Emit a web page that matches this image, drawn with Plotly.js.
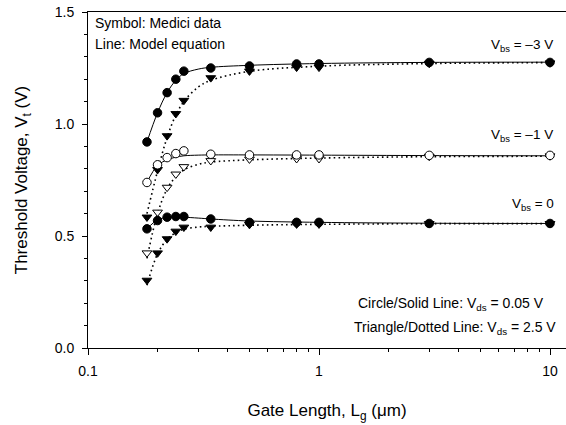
<!DOCTYPE html>
<html>
<head>
<meta charset="utf-8">
<script src="https://cdn.plot.ly/plotly-3.0.1.min.js"></script>
<style>html,body{margin:0;padding:0;background:#fff;}#chart{width:566px;height:425px;}</style>
</head>
<body>
<div id="chart"></div>
<script>
// Medici data (gate length in um)
const L_data = [0.18, 0.2, 0.22, 0.24, 0.26, 0.34, 0.5, 0.8, 1, 3, 10];
const vt_m3_vds005 = [0.92, 1.05, 1.14, 1.20, 1.236, 1.25, 1.259, 1.268, 1.268, 1.275, 1.275];
const vt_m3_vds25  = [0.584, 0.796, 0.947, 1.046, 1.105, 1.206, 1.236, 1.253, 1.253, 1.27, 1.272];
const vt_m1_vds005 = [0.739, 0.818, 0.85, 0.868, 0.88, 0.865, 0.862, 0.862, 0.862, 0.86, 0.86];
const vt_m1_vds25  = [0.424, 0.606, 0.717, 0.776, 0.809, 0.836, 0.843, 0.845, 0.845, 0.855, 0.857];
const vt_0_vds005  = [0.532, 0.569, 0.584, 0.587, 0.587, 0.576, 0.561, 0.561, 0.561, 0.556, 0.556];
const vt_0_vds25   = [0.302, 0.424, 0.487, 0.521, 0.539, 0.539, 0.551, 0.553, 0.553, 0.555, 0.555];

// Model equation curves
const L_model = [0.18, 0.2, 0.22, 0.24, 0.26, 0.3, 0.34, 0.5, 1, 3, 10];
const model_m3_vds005 = [0.92, 1.05, 1.14, 1.195, 1.225, 1.245, 1.253, 1.262, 1.27, 1.275, 1.276];
const model_m3_vds25  = [0.60, 0.79, 0.94, 1.04, 1.10, 1.165, 1.195, 1.235, 1.258, 1.27, 1.274];
const model_m1_vds005 = [0.74, 0.815, 0.84, 0.852, 0.858, 0.861, 0.862, 0.862, 0.861, 0.859, 0.858];
const model_m1_vds25  = [0.40, 0.60, 0.71, 0.765, 0.795, 0.82, 0.83, 0.84, 0.848, 0.854, 0.856];
const model_0_vds005  = [0.532, 0.572, 0.583, 0.585, 0.584, 0.58, 0.576, 0.567, 0.561, 0.557, 0.556];
const model_0_vds25   = [0.28, 0.42, 0.485, 0.515, 0.53, 0.54, 0.543, 0.548, 0.552, 0.555, 0.555];

const xTickVals = [0.1, 1, 10];
const xTickText = ['0.1', '1', '10'];
const xMinorVals = [0.2,0.3,0.4,0.5,0.6,0.7,0.8,0.9,2,3,4,5,6,7,8,9];
const yTickVals = [0, 0.5, 1.0, 1.5];
const yTickText = ['0.0', '0.5', '1.0', '1.5'];

const FONT = 'Liberation Sans, Arial, sans-serif';

function line(y, dash) {
  return {x: L_model, y: y, mode: 'lines', type: 'scatter', hoverinfo: 'skip',
    line: {color: '#000', width: dash ? 1.6 : 1, dash: dash ? '1.6px,3.2px' : 'solid', shape: 'spline'}};
}
function pts(y, symbol, hollow) {
  return {x: L_data, y: y, mode: 'markers', type: 'scatter',
    marker: {symbol: symbol, size: 8.5, color: hollow ? '#fff' : '#000', line: {color: '#000', width: 1}}};
}

const traces = [
  line(model_m3_vds005, false), line(model_m3_vds25, true),
  line(model_m1_vds005, false), line(model_m1_vds25, true),
  line(model_0_vds005, false), line(model_0_vds25, true),
  pts(vt_m3_vds25, 'triangle-down', false), pts(vt_m3_vds005, 'circle', false),
  pts(vt_m1_vds25, 'triangle-down', true), pts(vt_m1_vds005, 'circle', true),
  pts(vt_0_vds25, 'triangle-down', false), pts(vt_0_vds005, 'circle', false)
];

function ann(text, xp, yp, anchor, size) {
  return {text: text, xref: 'paper', yref: 'paper', x: xp, y: yp, xanchor: anchor, yanchor: 'middle',
    showarrow: false, font: {family: FONT, size: size, color: '#000'}};
}
const W = 478, H = 336;
function px(x){ return (x - 88) / W; }
function py(y){ return (348 - y) / H; }

const layout = {
  width: 566, height: 425,
  margin: {l: 88, r: 0, t: 12, b: 77},
  paper_bgcolor: '#fff', plot_bgcolor: '#fff',
  showlegend: false,
  font: {family: FONT, color: '#000'},
  xaxis: {
    type: 'log', range: [-1, Math.log10(0.1 * Math.pow(10, W / 231))],
    tickvals: xTickVals, ticktext: xTickText, ticks: 'outside', ticklen: 6, tickwidth: 1, tickcolor: '#000',
    ticklabelstandoff: 4,
    minor: {tickvals: xMinorVals, ticks: 'outside', ticklen: 3, tickcolor: '#000', showgrid: false},
    showgrid: false, zeroline: false, showline: true, linecolor: '#000', linewidth: 1, mirror: true,
    tickfont: {family: FONT, size: 14},
    title: {text: 'Gate Length, L<sub>g</sub> (\u03bcm)', font: {family: FONT, size: 17}, standoff: 26}
  },
  yaxis: {
    range: [0, 1.5], tickvals: yTickVals, ticktext: yTickText,
    ticks: 'outside', ticklen: 5, tickwidth: 1, tickcolor: '#000',
    ticklabelstandoff: 5,
    minor: {dtick: 0.1, ticks: 'outside', ticklen: 3, tickcolor: '#000', showgrid: false},
    showgrid: false, zeroline: false, showline: true, linecolor: '#000', linewidth: 1,
    tickfont: {family: FONT, size: 14},
    title: {text: 'Threshold Voltage, V<sub>t</sub> (V)', font: {family: FONT, size: 17}, standoff: 22}
  },
  annotations: [
    ann('Symbol: Medici data', px(93), py(23), 'left', 14),
    ann('Line: Model equation', px(93), py(44), 'left', 14),
    ann('V<sub>bs</sub> = \u20133 V', px(555), py(46), 'right', 13.5),
    ann('V<sub>bs</sub> = \u20131 V', px(555), py(135), 'right', 13.5),
    ann('V<sub>bs</sub> = 0', px(556), py(204), 'right', 13.5),
    ann('Circle/Solid Line: V<sub>ds</sub> = 0.05 V', px(546), py(304), 'right', 14),
    ann('Triangle/Dotted Line: V<sub>ds</sub> = 2.5 V', px(558), py(328), 'right', 14)
  ]
};

Plotly.newPlot('chart', traces, layout, {staticPlot: true, displayModeBar: false});
</script>
</body>
</html>
